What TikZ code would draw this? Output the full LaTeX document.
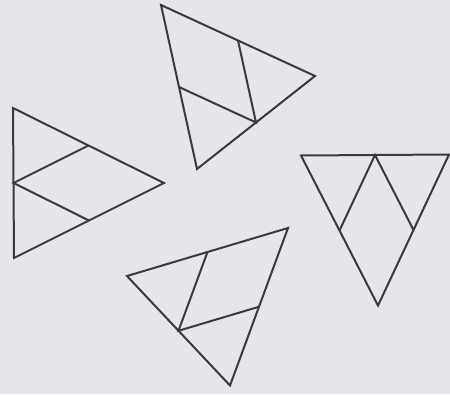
\documentclass[tikz,border=0pt]{standalone}
\usepackage{tikz}
\usepackage{xcolor}
\usetikzlibrary{calc}
\definecolor{paper}{HTML}{E6E6EA}
\definecolor{ink}{HTML}{383B38}

\begin{document}
\begin{tikzpicture}[x=1pt, y=-1pt,
          edge/.style={draw=ink, line width=2pt, line join=miter},
          cut/.style={draw=ink, line width=2pt}
        ]
        \fill[paper] (0,0) rectangle (450,394);
        \useasboundingbox (0,0) rectangle (450,394);

        % left triangle
        \coordinate (a1) at (13,108);
        \coordinate (b1) at (14,258);
        \coordinate (c1) at (164,183);
        \draw[edge] (a1) -- (b1) -- (c1) -- cycle;
        \draw[cut] ($(a1)!0.5!(c1)$) -- ($(a1)!0.5!(b1)$) -- ($(b1)!0.5!(c1)$);

        % top triangle
        \coordinate (a2) at (161,5);
        \coordinate (b2) at (315,76);
        \coordinate (c2) at (197,169);
        \draw[edge] (a2) -- (b2) -- (c2) -- cycle;
        \draw[cut] ($(a2)!0.5!(b2)$) -- ($(b2)!0.5!(c2)$) -- ($(a2)!0.5!(c2)$);

        % right triangle
        \coordinate (a3) at (301,155.5);
        \coordinate (b3) at (449,154.5);
        \coordinate (c3) at (378,305.5);
        \draw[edge] (a3) -- (b3) -- (c3) -- cycle;
        \draw[cut] ($(a3)!0.5!(c3)$) -- ($(a3)!0.5!(b3)$) -- ($(b3)!0.5!(c3)$);

        % bottom triangle
        \coordinate (a4) at (127,276);
        \coordinate (b4) at (288,228);
        \coordinate (c4) at (230,385.5);
        \draw[edge] (a4) -- (b4) -- (c4) -- cycle;
        \draw[cut] ($(a4)!0.5!(b4)$) -- ($(a4)!0.5!(c4)$) -- ($(b4)!0.5!(c4)$);
      \end{tikzpicture}
\end{document}
